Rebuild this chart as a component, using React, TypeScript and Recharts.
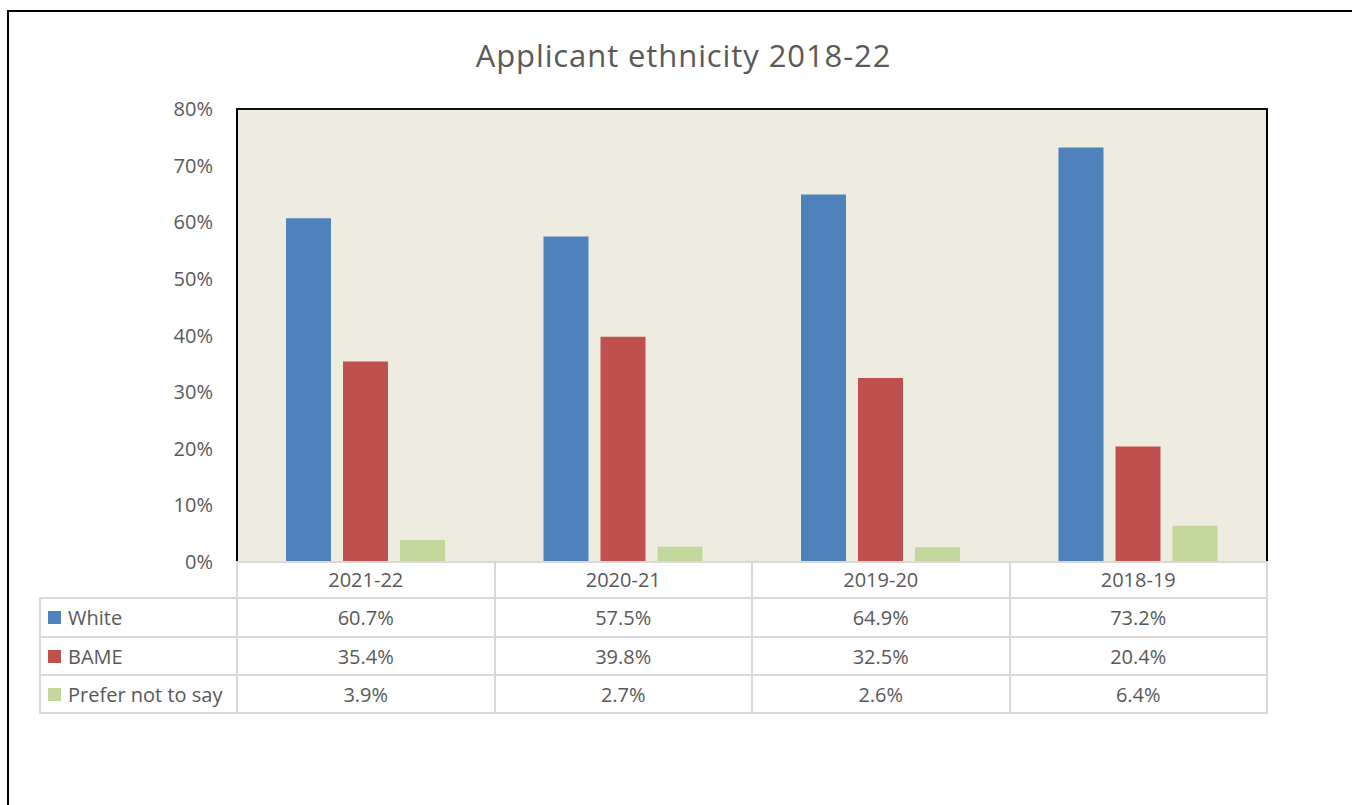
import { Bar, BarChart, CartesianGrid, XAxis, YAxis } from "recharts";

const years = ["2021-22", "2020-21", "2019-20", "2018-19"];
const white = [60.7, 57.5, 64.9, 73.2];
const bame = [35.4, 39.8, 32.5, 20.4];
const preferNot = [3.9, 2.7, 2.6, 6.4];
const yTicks = [0, 10, 20, 30, 40, 50, 60, 70, 80];

const series = [
  { key: "white", name: "White", color: "#4F81BD", values: white },
  { key: "bame", name: "BAME", color: "#C0504D", values: bame },
  { key: "prefer", name: "Prefer not to say", color: "#C3D69B", values: preferNot }
];

const chartData = years.map((year, i) => ({
  year,
  white: white[i],
  bame: bame[i],
  prefer: preferNot[i]
}));

const FONT = "'Open Sans', 'Noto Sans', sans-serif";
const TEXT = "#595959";
const GRID = "#D9D9D9";

// plot area box (page pixels)
const PLOT_LEFT = 237;
const PLOT_RIGHT = 1267;
const PLOT_TOP = 109;
const PLOT_BOTTOM = 562;
const COL_W = (PLOT_RIGHT - PLOT_LEFT) / years.length;
const TABLE_LEFT = 40;
const ROW_LINES = [598, 637, 675, 713];

function hLine(x1: number, x2: number, y: number, key: string) {
  return (
    <div
      key={key}
      style={{ position: "absolute", left: x1 - 1, top: y - 1, width: x2 - x1 + 2, height: 2, background: GRID }}
    />
  );
}

function vLine(x: number, y1: number, y2: number, key: string) {
  return (
    <div
      key={key}
      style={{ position: "absolute", left: x - 1, top: y1 - 1, width: 2, height: y2 - y1 + 2, background: GRID }}
    />
  );
}

export default function App() {
  const lines = [
    hLine(TABLE_LEFT, PLOT_RIGHT, ROW_LINES[0], "h0"),
    hLine(TABLE_LEFT, PLOT_RIGHT, ROW_LINES[1], "h1"),
    hLine(TABLE_LEFT, PLOT_RIGHT, ROW_LINES[2], "h2"),
    hLine(TABLE_LEFT, PLOT_RIGHT, ROW_LINES[3], "h3"),
    vLine(TABLE_LEFT, ROW_LINES[0], ROW_LINES[3], "vl"),
    ...years.map((_, i) => vLine(PLOT_LEFT + i * COL_W, PLOT_BOTTOM, ROW_LINES[3], "v" + i)),
    vLine(PLOT_RIGHT, PLOT_BOTTOM, ROW_LINES[3], "vr")
  ];

  return (
    <div
      style={{
        position: "absolute",
        left: 0,
        top: 0,
        width: 1352,
        height: 805,
        overflow: "hidden",
        background: "#fff",
        fontFamily: FONT
      }}
    >
      <div
        style={{
          position: "absolute",
          left: 7,
          top: 10,
          width: 1500,
          height: 1000,
          border: "2px solid #000",
          boxSizing: "border-box"
        }}
      />
      <div
        style={{
          position: "absolute",
          left: 0,
          top: 40,
          width: 1367,
          textAlign: "center",
          fontSize: 31,
          letterSpacing: 0.9,
          lineHeight: 1,
          color: TEXT
        }}
      >
        Applicant ethnicity 2018-22
      </div>

      <div style={{ position: "absolute", left: 0, top: 0 }}>
        <BarChart
          width={1352}
          height={805}
          data={chartData}
          margin={{ top: PLOT_TOP, right: 1352 - PLOT_RIGHT, bottom: 805 - PLOT_BOTTOM - 36, left: PLOT_LEFT - 60 }}
          barGap={12}
          barSize={45}
        >
          <CartesianGrid fill="#EEECE1" horizontal={false} vertical={false} />
          <XAxis
            dataKey="year"
            height={36}
            axisLine={{ stroke: GRID, strokeWidth: 2 }}
            tickLine={false}
            tickSize={0}
            tickMargin={11}
            tick={{ fill: TEXT, fontSize: 20, fontFamily: FONT }}
          />
          <YAxis
            width={60}
            domain={[0, 80]}
            ticks={yTicks}
            axisLine={false}
            tickLine={false}
            tickMargin={18}
            tickFormatter={(v: number) => `${v}%`}
            tick={{ fill: TEXT, fontSize: 20, fontFamily: FONT }}
          />
          {series.map((s) => (
            <Bar key={s.key} dataKey={s.key} name={s.name} fill={s.color} isAnimationActive={false} />
          ))}
        </BarChart>
      </div>

      {/* plot area frame */}
      <div
        style={{
          position: "absolute",
          left: PLOT_LEFT - 1,
          top: PLOT_TOP - 1,
          width: PLOT_RIGHT - PLOT_LEFT + 2,
          height: PLOT_BOTTOM - PLOT_TOP + 1,
          borderLeft: "2px solid #000",
          borderRight: "2px solid #000",
          borderTop: "2px solid #111",
          boxSizing: "border-box"
        }}
      />

      {/* data table */}
      {lines}
      {series.map((s, r) => {
        const top = ROW_LINES[r];
        const h = ROW_LINES[r + 1] - top;
        return (
          <div key={s.key}>
            <div
              style={{
                position: "absolute",
                left: 48,
                top,
                height: h,
                display: "flex",
                alignItems: "center",
                fontSize: 20,
                color: TEXT,
                whiteSpace: "nowrap"
              }}
            >
              <span style={{ display: "inline-block", width: 13, height: 13, background: s.color, marginRight: 7 }} />
              {s.name}
            </div>
            {s.values.map((v, c) => (
              <div
                key={c}
                style={{
                  position: "absolute",
                  left: PLOT_LEFT + c * COL_W,
                  top,
                  width: COL_W,
                  height: h,
                  display: "flex",
                  alignItems: "center",
                  justifyContent: "center",
                  fontSize: 20,
                  color: TEXT
                }}
              >
                {v.toFixed(1)}%
              </div>
            ))}
          </div>
        );
      })}
    </div>
  );
}
